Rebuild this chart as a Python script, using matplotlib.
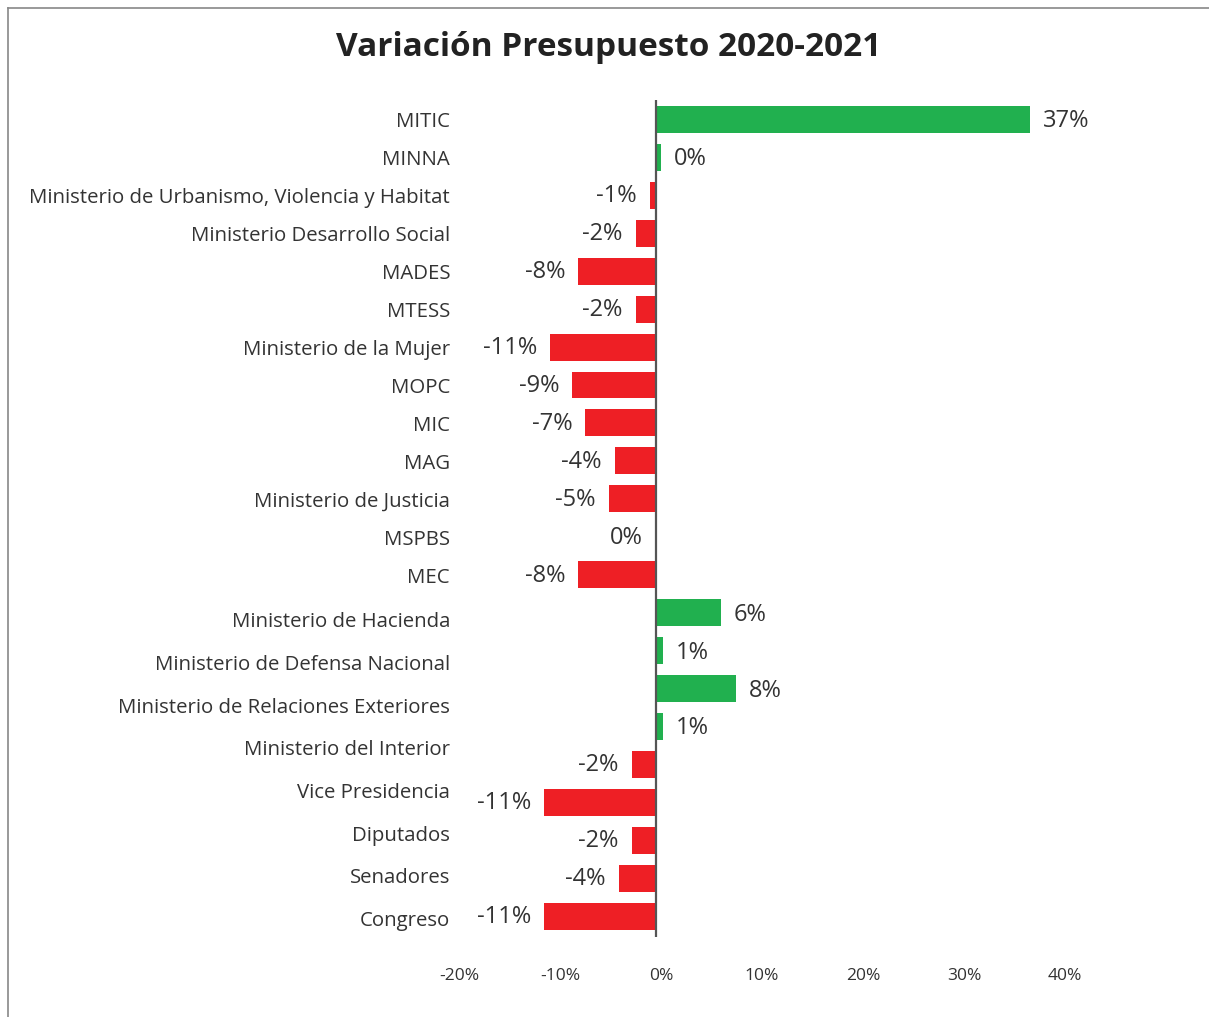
import numpy as np
import matplotlib.pyplot as plt
from matplotlib.transforms import blended_transform_factory, ScaledTranslation
from matplotlib.lines import Line2D

plt.rcParams['font.family'] = ['Open Sans', 'DejaVu Sans']

# bars (top to bottom)
variacion = [37.0, 0.5, -0.6, -2.0, -7.7, -2.0, -10.5, -8.3, -7.0, -4.1, -4.7, 0.0,
             -7.7, 6.4, 0.7, 7.9, 0.7, -2.4, -11.1, -2.4, -3.7, -11.1]
etiquetas_valor = ['37%', '0%', '-1%', '-2%', '-8%', '-2%', '-11%', '-9%', '-7%', '-4%',
                   '-5%', '0%', '-8%', '6%', '1%', '8%', '1%', '-2%', '-11%', '-2%',
                   '-4%', '-11%']
# category names (as printed on the left)
categorias = ['MITIC', 'MINNA', 'Ministerio de Urbanismo, Violencia y Habitat',
              'Ministerio Desarrollo Social', 'MADES', 'MTESS', 'Ministerio de la Mujer',
              'MOPC', 'MIC', 'MAG', 'Ministerio de Justicia', 'MSPBS', 'MEC',
              'Ministerio de Hacienda', 'Ministerio de Defensa Nacional',
              'Ministerio de Relaciones Exteriores', 'Ministerio del Interior',
              'Vice Presidencia', 'Diputados', 'Senadores', 'Congreso']
ticks_x = [-20, -10, 0, 10, 20, 30, 40]

verde = '#21B04F'
rojo = '#EE1F25'
gris = '#333333'

W, H = 1209, 1017
fig = plt.figure(figsize=(W / 100, H / 100), dpi=100)
ax = fig.add_axes([454 / W, 1 - 937 / H, (1060 - 454) / W, (937 - 100) / H])

pos = np.arange(len(variacion))
colores = [verde if v > 0 else rojo for v in variacion]
ax.barh(pos, variacion, height=0.71, color=colores)
ax.axvline(0, color='#555555', lw=1.6)

for p, v, t in zip(pos, variacion, etiquetas_valor):
    if v > 0:
        ax.annotate(t, (v, p), xytext=(13, -2), textcoords='offset pixels',
                    ha='left', va='center', fontsize=17, color=gris, clip_on=False)
    else:
        ax.annotate(t, (v, p), xytext=(-13, -1), textcoords='offset pixels',
                    ha='right', va='center', fontsize=17, color=gris, clip_on=False)

# category labels: first 13 follow the bars, the rest are spread a bit wider
n_top = 13
pos_lab = np.concatenate([pos[:n_top], np.linspace(13.17, 21.05, len(categorias) - n_top)])
tr = blended_transform_factory(fig.transFigure, ax.transData)
for p, c in zip(pos_lab, categorias):
    ax.annotate(c, (450 / W, p), xycoords=tr, xytext=(0, -3), textcoords='offset pixels',
                ha='right', va='center', fontsize=14.7, color=gris, annotation_clip=False)

ax.set_xlim(-20, 40)
ax.set_ylim(21.55, -0.513)
ax.set_xticks(ticks_x)
ax.set_xticklabels([f'{t}%' for t in ticks_x], fontsize=12.5, color=gris)
ax.tick_params(axis='x', length=0, pad=22)
desplaza = ScaledTranslation(5 / 100, 0, fig.dpi_scale_trans)
for lab in ax.get_xticklabels():
    lab.set_transform(lab.get_transform() + desplaza)
ax.set_yticks([])
for s in ax.spines.values():
    s.set_visible(False)

fig.text(609 / W, 1 - 48 / H, 'Variación Presupuesto 2020-2021', ha='center', va='center',
         fontsize=24, fontweight='bold', color='#222222')

# frame on top and left
fig.add_artist(Line2D([8 / W, 1], [1 - 8 / H, 1 - 8 / H], color='#888888', lw=1.2))
fig.add_artist(Line2D([8 / W, 8 / W], [0, 1 - 8 / H], color='#888888', lw=1.2))

fig.savefig('out.png', dpi=100)
